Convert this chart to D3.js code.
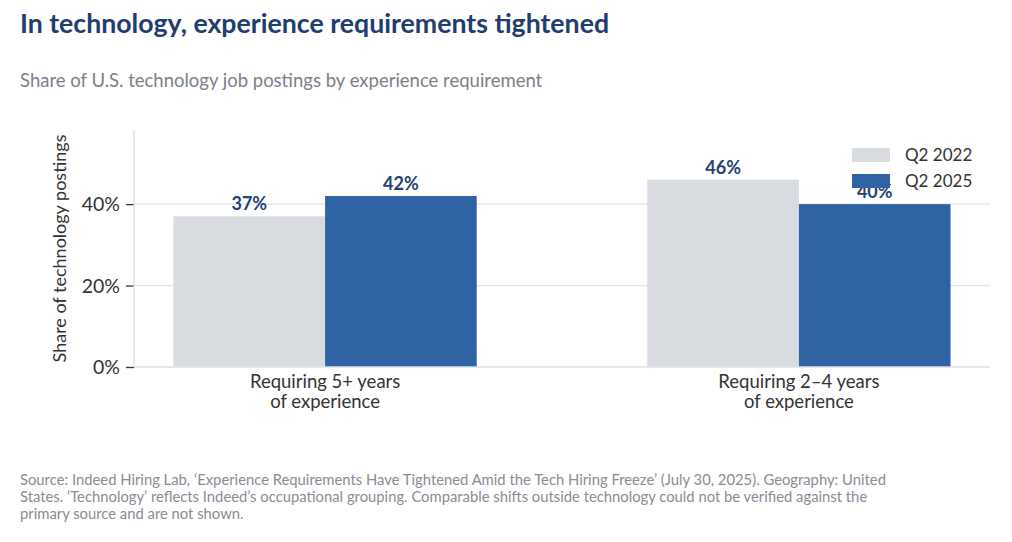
<!DOCTYPE html>
<html><head><meta charset="utf-8">
<script src="https://cdn.jsdelivr.net/npm/d3@7"></script>
<style>
body{margin:0;background:#fff;}
svg{display:block;font-family:Lato,"Noto Sans",sans-serif;}
</style></head>
<body><svg id="c" width="1012" height="542"></svg>
<script>
const categories = ["Requiring 5+ years|of experience", "Requiring 2–4 years|of experience"];
const seriesNames = ["Q2 2022", "Q2 2025"];
const q2_2022 = [37, 46];
const q2_2025 = [42, 40];
const yTicks = [0, 20, 40];
const colors = ["#d8dbe0", "#3063a3"];

const svg = d3.select("#c");
const mLeft = 134, mRight = 990, mTop = 130, mBottom = 367;

svg.append("text").attr("x", 20).attr("y", 33).attr("fill", "#1f3d6d")
  .attr("font-size", 26.7).attr("font-weight", 700).text("In technology, experience requirements tightened");
svg.append("text").attr("x", 20).attr("y", 87).attr("fill", "#7b808a")
  .attr("font-size", 18.5).text("Share of U.S. technology job postings by experience requirement");

const x0 = d3.scaleBand().domain(categories).range([mLeft, mRight]).paddingInner(0.36).paddingOuter(0.0833);
const x1 = d3.scaleBand().domain(seriesNames).range([0, x0.bandwidth()]);
const y = d3.scaleLinear().domain([0, 58.2]).range([mBottom, mTop]);

// gridlines
svg.append("g").selectAll("line").data(yTicks.filter(d => d > 0)).join("line")
  .attr("x1", mLeft).attr("x2", mRight).attr("y1", d => y(d)).attr("y2", d => y(d))
  .attr("stroke", "#e1e3e8").attr("stroke-width", 1.2);

const data = categories.map((c, i) => ({c, vals: [q2_2022[i], q2_2025[i]]}));

const g = svg.append("g").selectAll("g").data(data).join("g")
  .attr("transform", d => `translate(${x0(d.c)},0)`);
g.selectAll("rect").data(d => d.vals.map((v, j) => ({v, s: seriesNames[j], j}))).join("rect")
  .attr("x", d => x1(d.s)).attr("width", x1.bandwidth())
  .attr("y", d => y(d.v)).attr("height", d => y(0) - y(d.v))
  .attr("fill", d => colors[d.j]);

// y axis
const yAxis = svg.append("g").attr("transform", `translate(${mLeft},0)`)
  .call(d3.axisLeft(y).tickValues(yTicks).tickFormat(d => d + "%").tickSize(8).tickPadding(6));
yAxis.select(".domain").remove();
yAxis.selectAll(".tick line").attr("stroke", "#333").attr("stroke-width", 1.3);
yAxis.selectAll(".tick text").attr("font-size", 19.5).attr("fill", "#333").attr("font-family", "Lato").attr("dy", "0.35em");
svg.append("line").attr("x1", mLeft).attr("x2", mLeft).attr("y1", mTop).attr("y2", mBottom)
  .attr("stroke", "#dfe1e6").attr("stroke-width", 1.5);
svg.append("line").attr("x1", mLeft).attr("x2", mRight).attr("y1", mBottom).attr("y2", mBottom)
  .attr("stroke", "#dfe1e6").attr("stroke-width", 1.5);

// value labels
g.selectAll("text.v").data(d => d.vals.map((v, j) => ({v, s: seriesNames[j], j}))).join("text")
  .attr("class", "v").attr("x", d => x1(d.s) + x1.bandwidth() / 2).attr("y", d => y(d.v) - 6)
  .attr("text-anchor", "middle").attr("font-size", 18).attr("font-weight", 700).attr("fill", "#244272")
  .text(d => d.v + "%");

// category labels
svg.append("g").selectAll("text").data(categories).join("text")
  .attr("x", d => x0(d) + x0.bandwidth() / 2).attr("y", 388)
  .attr("text-anchor", "middle").attr("font-size", 18.5).attr("fill", "#333")
  .each(function(d) {
    const parts = d.split("|");
    d3.select(this).selectAll("tspan").data(parts).join("tspan")
      .attr("x", x0(d) + x0.bandwidth() / 2).attr("dy", (p, i) => i ? 20 : 0).text(p => p);
  });

// y axis title
svg.append("text").attr("transform", `translate(66,${(mTop + mBottom) / 2}) rotate(-90)`)
  .attr("text-anchor", "middle").attr("font-size", 18).attr("fill", "#333").text("Share of technology postings");

// legend
const lg = svg.append("g").selectAll("g").data(seriesNames).join("g")
  .attr("transform", (d, i) => `translate(852,${148 + i * 26})`);
lg.append("rect").attr("width", 38).attr("height", 14).attr("fill", (d, i) => colors[i]);
lg.append("text").attr("x", 53).attr("y", 7).attr("dy", "0.35em").attr("font-size", 17).attr("fill", "#333").text(d => d);

// footer
const foot = [
  "Source: Indeed Hiring Lab, ‘Experience Requirements Have Tightened Amid the Tech Hiring Freeze’ (July 30, 2025). Geography: United",
  "States. ‘Technology’ reflects Indeed’s occupational grouping. Comparable shifts outside technology could not be verified against the",
  "primary source and are not shown."
];
svg.append("g").selectAll("text").data(foot).join("text")
  .attr("x", 20).attr("y", (d, i) => 485 + i * 17).attr("font-size", 14.8).attr("fill", "#888c94").text(d => d);
</script></body></html>
